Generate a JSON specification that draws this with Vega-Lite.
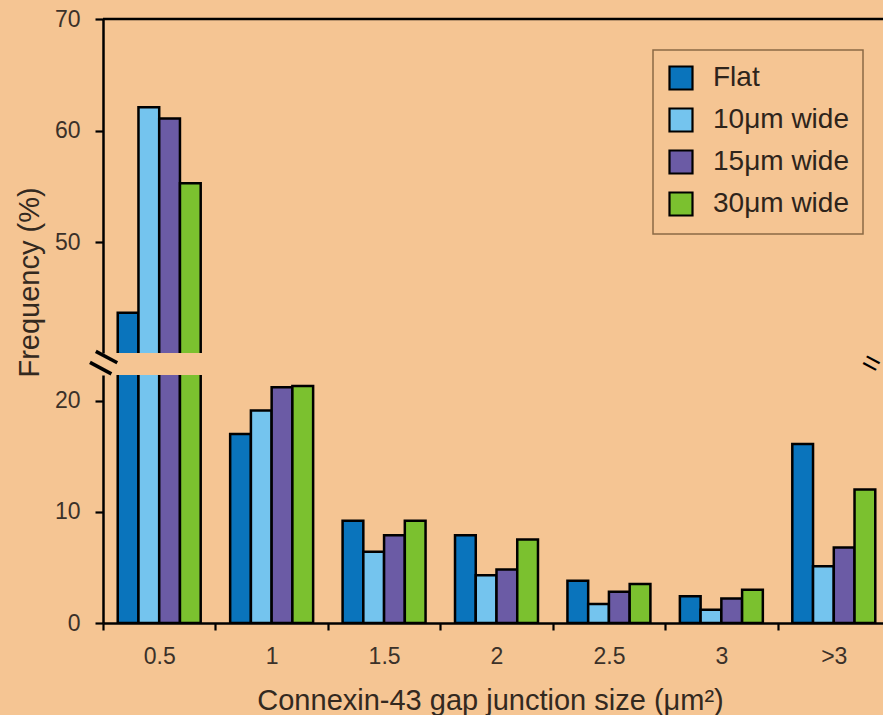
{
  "$schema": "https://vega.github.io/schema/vega-lite/v6.json",
  "background": "#F5C593",
  "padding": {"left": 15, "top": 8, "right": 0, "bottom": 0},
  "bounds": "flush",
  "spacing": 22,
  "config": {
    "view": {"stroke": null},
    "font": "Liberation Sans",
    "axis": {
      "domainColor": "black", "domainWidth": 2.5, "tickColor": "black", "tickWidth": 2.2,
      "labelColor": "#3b3129", "titleColor": "#33291f", "labelFont": "Liberation Sans",
      "titleFont": "Liberation Sans", "labelFontSize": 23, "titleFontSize": 29,
      "titleFontWeight": "normal", "grid": false
    },
    "legend": {
      "orient": "none", "legendX": 550, "legendY": 31,
      "symbolType": "square", "symbolSize": 529, "symbolStrokeColor": "black", "symbolStrokeWidth": 2.2,
      "labelFontSize": 28, "labelFont": "Liberation Sans", "labelColor": "#2e241b",
      "labelOffset": 18, "rowPadding": 10, "padding": 14,
      "strokeColor": "#8B6A46", "strokeWidth": 1.5
    }
  },
  "datasets": {
    "freq": [
      {"size": "0.5", "condition": "Flat", "freq": 43.7},
      {"size": "0.5", "condition": "10μm wide", "freq": 62.1},
      {"size": "0.5", "condition": "15μm wide", "freq": 61.1},
      {"size": "0.5", "condition": "30μm wide", "freq": 55.3},
      {"size": "1", "condition": "Flat", "freq": 17.0},
      {"size": "1", "condition": "10μm wide", "freq": 19.1},
      {"size": "1", "condition": "15μm wide", "freq": 21.2},
      {"size": "1", "condition": "30μm wide", "freq": 21.3},
      {"size": "1.5", "condition": "Flat", "freq": 9.2},
      {"size": "1.5", "condition": "10μm wide", "freq": 6.4},
      {"size": "1.5", "condition": "15μm wide", "freq": 7.9},
      {"size": "1.5", "condition": "30μm wide", "freq": 9.2},
      {"size": "2", "condition": "Flat", "freq": 7.9},
      {"size": "2", "condition": "10μm wide", "freq": 4.3},
      {"size": "2", "condition": "15μm wide", "freq": 4.8},
      {"size": "2", "condition": "30μm wide", "freq": 7.5},
      {"size": "2.5", "condition": "Flat", "freq": 3.8},
      {"size": "2.5", "condition": "10μm wide", "freq": 1.7},
      {"size": "2.5", "condition": "15μm wide", "freq": 2.8},
      {"size": "2.5", "condition": "30μm wide", "freq": 3.5},
      {"size": "3", "condition": "Flat", "freq": 2.4},
      {"size": "3", "condition": "10μm wide", "freq": 1.2},
      {"size": "3", "condition": "15μm wide", "freq": 2.2},
      {"size": "3", "condition": "30μm wide", "freq": 3.0},
      {"size": ">3", "condition": "Flat", "freq": 16.1},
      {"size": ">3", "condition": "10μm wide", "freq": 5.1},
      {"size": ">3", "condition": "15μm wide", "freq": 6.8},
      {"size": ">3", "condition": "30μm wide", "freq": 12.0}
    ]
  },
  "resolve": {"legend": {"color": "independent"}},
  "vconcat": [
    {
      "width": 787,
      "height": 334,
      "layer": [
        {
          "data": {"name": "freq"},
          "mark": {"type": "bar", "stroke": "black", "strokeWidth": 2.5, "clip": true},
          "encoding": {
            "x": {"field": "size", "type": "nominal", "sort": ["0.5", "1", "1.5", "2", "2.5", "3", ">3"],
                  "scale": {"paddingInner": 0, "paddingOuter": 0}, "axis": null},
            "xOffset": {"field": "condition", "type": "nominal",
                        "sort": ["Flat", "10μm wide", "15μm wide", "30μm wide"],
                        "scale": {"paddingInner": 0, "paddingOuter": 0.71}},
            "y": {"field": "freq", "type": "quantitative",
                  "scale": {"domain": [40.1, 70], "nice": false, "zero": false},
                  "axis": {"values": [50, 60, 70], "title": "Frequency (%)", "tickSize": 8,
                           "labelPadding": 15, "minExtent": 49, "maxExtent": 49,
                           "titlePadding": 10, "titleY": 263}},
            "color": {"field": "condition", "type": "nominal",
                      "sort": ["Flat", "10μm wide", "15μm wide", "30μm wide"],
                      "scale": {"domain": ["Flat", "10μm wide", "15μm wide", "30μm wide"],
                                "range": ["#0A74BC", "#74C4EE", "#6B5BA5", "#7BC12F"]},
                      "legend": {"title": null}}
          }
        },
        {
          "data": {"values": [{"top": 70}]},
          "mark": {"type": "rule", "stroke": "black", "strokeWidth": 2.5},
          "encoding": {
            "y": {"field": "top", "type": "quantitative",
                  "scale": {"domain": [40.1, 70], "nice": false, "zero": false}}
          }
        }
      ]
    },
    {
      "width": 787,
      "height": 248,
      "layer": [
        {
          "data": {"name": "freq"},
          "mark": {"type": "bar", "stroke": "black", "strokeWidth": 2.5, "clip": true},
          "encoding": {
            "x": {"field": "size", "type": "nominal", "sort": ["0.5", "1", "1.5", "2", "2.5", "3", ">3"],
                  "scale": {"paddingInner": 0, "paddingOuter": 0},
                  "axis": {"tickBand": "extent", "title": "Connexin-43 gap junction size (μm²)",
                           "tickSize": 7, "labelPadding": 15, "titlePadding": 18, "labelAngle": 0,
                           "titleX": 387}},
            "xOffset": {"field": "condition", "type": "nominal",
                        "sort": ["Flat", "10μm wide", "15μm wide", "30μm wide"],
                        "scale": {"paddingInner": 0, "paddingOuter": 0.71}},
            "y": {"field": "freq", "type": "quantitative",
                  "scale": {"domain": [0, 22.3], "nice": false},
                  "axis": {"values": [0, 10, 20], "title": null, "tickSize": 8,
                           "labelPadding": 15, "minExtent": 49, "maxExtent": 49}},
            "color": {"field": "condition", "type": "nominal",
                      "sort": ["Flat", "10μm wide", "15μm wide", "30μm wide"],
                      "scale": {"domain": ["Flat", "10μm wide", "15μm wide", "30μm wide"],
                                "range": ["#0A74BC", "#74C4EE", "#6B5BA5", "#7BC12F"]},
                      "legend": null}
          }
        },
        {
          "data": {"values": [{"size": "0.5", "y": 23.3, "mark": "="}]},
          "mark": {"type": "text", "fontSize": 50, "angle": 28, "color": "black", "align": "center", "baseline": "middle", "clip": false},
          "encoding": {
            "x": {"field": "size", "type": "nominal", "bandPosition": 0},
            "y": {"field": "y", "type": "quantitative"},
            "text": {"field": "mark"}
          }
        },
        {
          "data": {"values": [{"size": ">3", "y": 23.3, "mark": "="}]},
          "mark": {"type": "text", "fontSize": 30, "angle": 28, "color": "black", "align": "center", "baseline": "middle", "clip": false},
          "encoding": {
            "x": {"field": "size", "type": "nominal", "bandPosition": 0.83},
            "y": {"field": "y", "type": "quantitative"},
            "text": {"field": "mark"}
          }
        }
      ]
    }
  ]
}
